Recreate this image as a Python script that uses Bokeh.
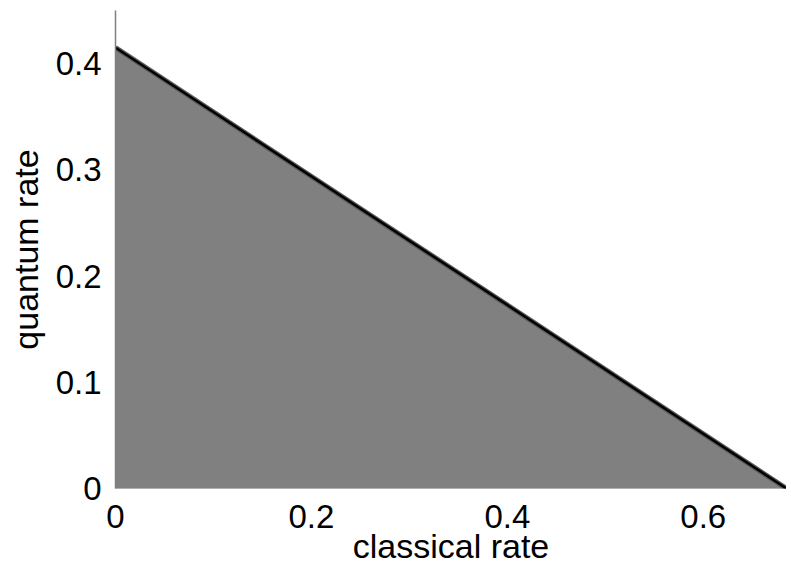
from bokeh.plotting import figure
from bokeh.models import Range1d, FixedTicker, CustomJSTickFormatter
from bokeh.embed import file_html
from bokeh.resources import INLINE

# region vertices (classical rate, quantum rate)
region_classical = [0.0, 0.0, 0.685]
region_quantum = [0.0, 0.415, 0.0]
# boundary line
boundary_classical = [0.0, 0.685]
boundary_quantum = [0.415, 0.0]

x_ticks = [0, 0.2, 0.4, 0.6]
y_ticks = [0, 0.1, 0.2, 0.3, 0.4]

FONT = "Liberation Sans"

p = figure(width=786, height=568, output_backend="svg", toolbar_location=None,
           x_range=Range1d(0, 0.685), y_range=Range1d(0, 0.45),
           min_border_left=115, min_border_right=0, min_border_top=10, min_border_bottom=80)
p.outline_line_color = None
p.xgrid.visible = False
p.ygrid.visible = False

p.patch(region_classical, region_quantum, fill_color="#808080", line_color="#808080", line_width=1)
p.line(boundary_classical, boundary_quantum, line_color="#5a5a5a", line_width=5)
p.line(boundary_classical, boundary_quantum, line_color="#000000", line_width=2.5)

fmt = CustomJSTickFormatter(code="return tick == 0 ? '0' : tick.toFixed(1);")

p.xaxis.ticker = FixedTicker(ticks=x_ticks)
p.yaxis.ticker = FixedTicker(ticks=y_ticks)
p.xaxis.formatter = fmt
p.yaxis.formatter = fmt

for ax in (p.xaxis[0], p.yaxis[0]):
    ax.major_tick_line_color = None
    ax.minor_tick_line_color = None
    ax.major_tick_out = 0
    ax.major_tick_in = 0
    ax.minor_tick_out = 0
    ax.minor_tick_in = 0
    ax.major_label_text_font = FONT
    ax.major_label_text_font_size = "33px"
    ax.major_label_text_color = "#000000"
    ax.axis_label_text_font = FONT
    ax.axis_label_text_font_size = "34px"
    ax.axis_label_text_font_style = "normal"
    ax.axis_label_text_color = "#000000"

p.xaxis.axis_line_color = None
p.yaxis.axis_line_color = "#808080"
p.yaxis.axis_line_width = 1.5
p.xaxis.major_label_standoff = 16
p.yaxis.major_label_standoff = 14
p.xaxis.axis_label = "classical rate"
p.yaxis.axis_label = "quantum rate"
p.xaxis.axis_label_standoff = -4
p.yaxis.axis_label_standoff = 8

open("out.html", "w").write(file_html(p, INLINE))
